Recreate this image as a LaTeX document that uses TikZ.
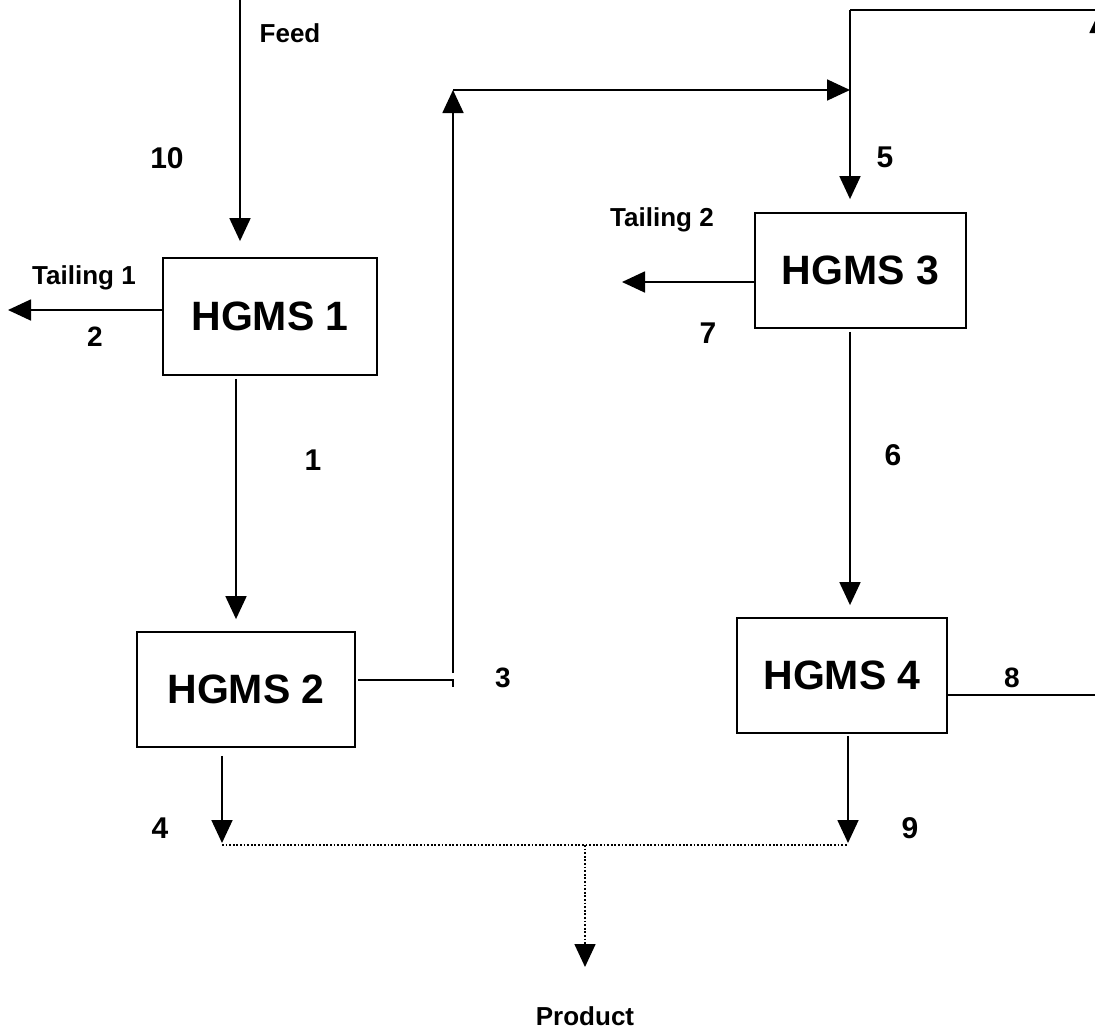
\documentclass[tikz,border=0pt]{standalone}
\usepackage{fontspec}
\setmainfont{Liberation Sans}
\usetikzlibrary{arrows.meta}
\begin{document}
\begin{tikzpicture}[x=1pt,y=-1pt,
  line width=1.8pt,
  box/.style={draw, line width=1.8pt, font=\fontsize{41}{48}\selectfont\bfseries, inner sep=0pt},
  arr/.style={-{Triangle[length=23pt,width=21pt]}},
  lab/.style={font=\fontsize{26}{31}\selectfont\bfseries, inner sep=0pt},
  num/.style={font=\fontsize{30}{36}\selectfont\bfseries, inner sep=0pt},
  sml/.style={font=\fontsize{28}{33}\selectfont\bfseries, inner sep=0pt},
  dots/.style={line width=1.6pt, dash pattern=on 1.8pt off 1.8pt}]
\useasboundingbox (0,0) rectangle (1095,1031);
% boxes
\node[box, minimum width=214pt, minimum height=117pt] (h1) at (270,316.5) {HGMS 1};
\node[box, minimum width=218pt, minimum height=115pt] (h2) at (246,689.5) {HGMS 2};
\node[box, minimum width=211pt, minimum height=115pt] (h3) at (860.5,270.5) {HGMS 3};
\node[box, minimum width=210pt, minimum height=115pt] (h4) at (842,675.5) {HGMS 4};
% coordinates
\coordinate (feedtop) at (240,0);
\coordinate (t1) at (8,310);
\coordinate (t2) at (622,282);
\coordinate (c3a) at (453,680);
\coordinate (c3b) at (453,90);
\coordinate (c3c) at (850,90);
\coordinate (topl) at (850,10);
\coordinate (topr) at (1100,10);
\coordinate (r8) at (1100,695);
\coordinate (p4) at (222,845);
\coordinate (p9) at (848,845);
\coordinate (pm) at (585,845);
\coordinate (prod) at (585,967);
% connectors
\draw[arr, shorten >=16pt] (feedtop) -- (feedtop |- h1.north);
\draw[arr] (h1.west |- t1) -- (t1);
\draw[arr, shorten <=3pt, shorten >=12pt] ([xshift=-34pt]h1.south) -- ([xshift=-10pt]h2.north);
\draw ([xshift=2pt]h2.east |- c3a) -- (c3a) -- ++(0,7);
\draw[arr] ([yshift=7pt]c3a) -- (c3b);
\draw[arr] (c3b) -- (c3c);
\draw (h4.east |- r8) -- (r8);
\draw[arr] (r8) -- (topr);
\draw (topr) -- (topl);
\draw[arr, shorten >=13pt] (topl) -- (topl |- h3.north);
\draw[arr] (h3.west |- t2) -- (t2);
\draw[arr, shorten <=3pt, shorten >=12pt] ([xshift=-10.5pt]h3.south) -- ([xshift=8pt]h4.north);
\draw[arr, shorten <=8pt, shorten >=2pt] (h2.south -| p4) -- (p4);
\draw[arr, shorten <=2pt, shorten >=2pt] (h4.south -| p9) -- (p9);
\draw[dots] (p4) -- (p9);
\draw[dots, -{Triangle[length=23pt,width=21pt]}] (pm) -- (prod);
% labels
\node[lab] (lfeed) at (290,33) {Feed};
\node[num] (l10) at (167,158) {10};
\node[lab] (lt1) at (84,278) {Tailing 1};
\node[sml] (l2) at (95,337) {2};
\node[num] (l1) at (313,460) {1};
\node[sml] (l3) at (503,678) {3};
\node[num] (l5) at (885,157) {5};
\node[lab] (lt2) at (662,220) {Tailing 2};
\node[num] (l7) at (708,333) {7};
\node[num] (l6) at (893,455) {6};
\node[sml] (l8) at (1012,678) {8};
\node[num] (l4) at (160,828) {4};
\node[num] (l9) at (910,828) {9};
\node[lab] (lprod) at (585,1016) {Product};
\end{tikzpicture}
\end{document}
